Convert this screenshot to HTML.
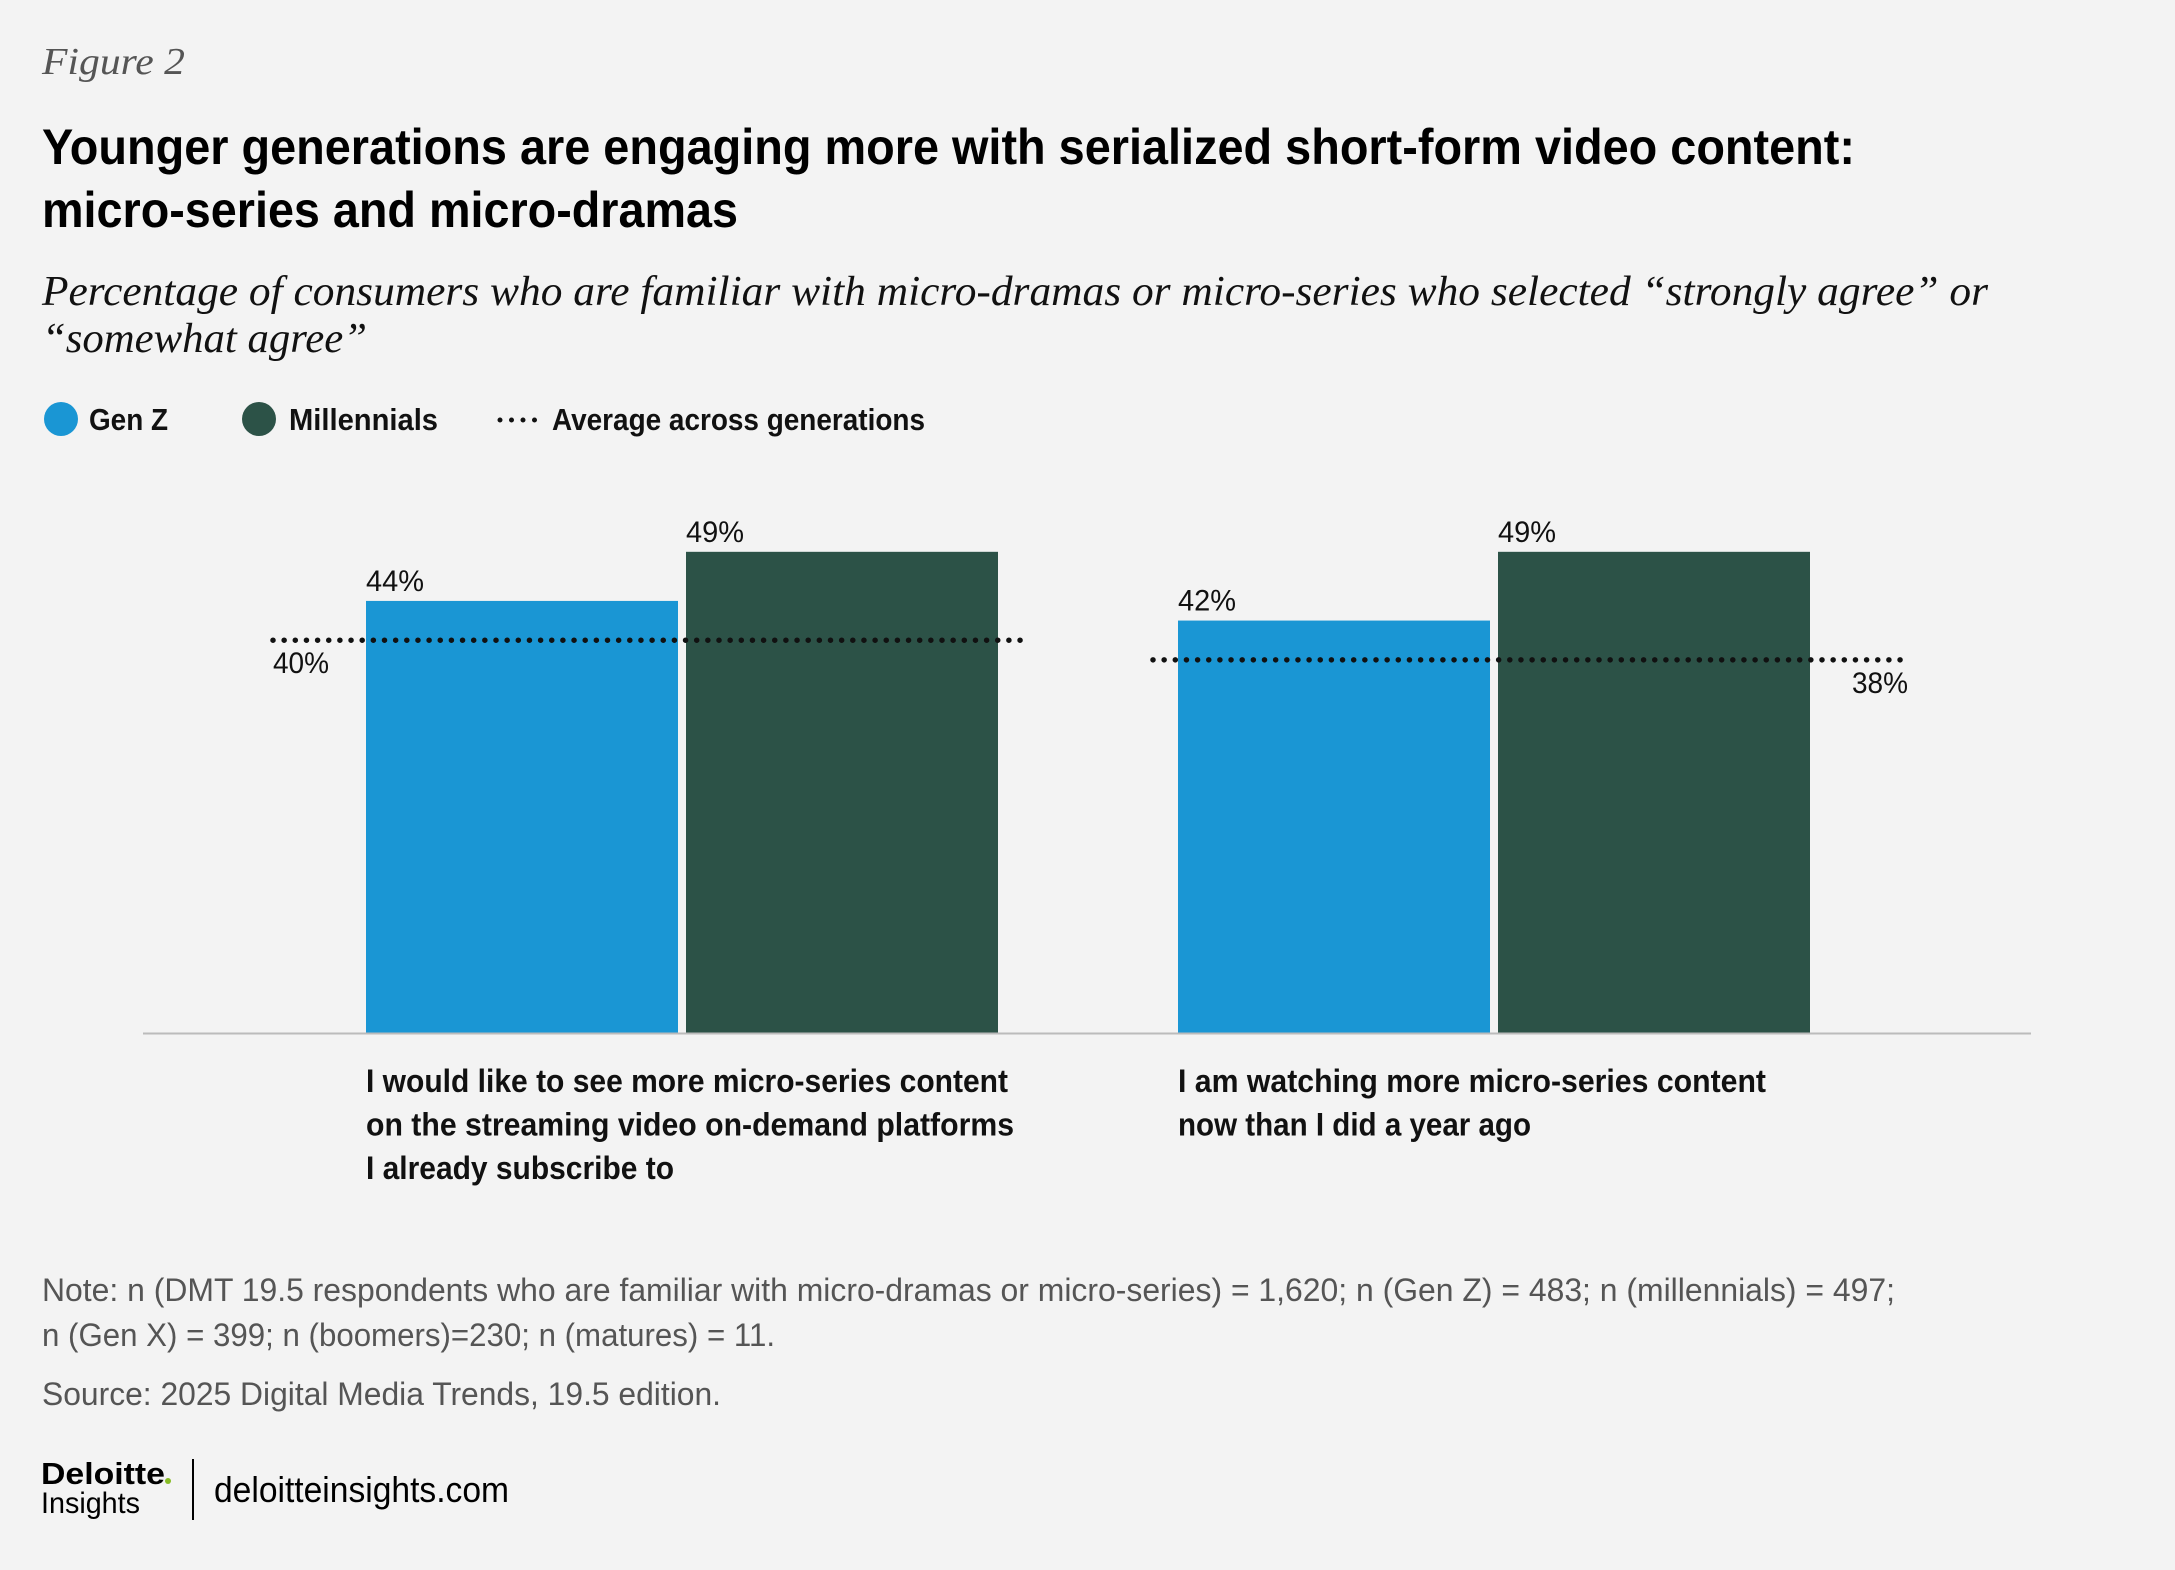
<!DOCTYPE html>
<html><head><meta charset="utf-8"><style>
html,body{margin:0;padding:0;background:#f3f3f3;}
svg{display:block;}
.sans{font-family:"Liberation Sans",sans-serif;}
.serif{font-family:"Liberation Serif",serif;font-style:italic;}
</style></head><body>
<svg width="2175" height="1570" viewBox="0 0 2175 1570">
<rect width="2175" height="1570" fill="#f3f3f3"/>
<text x="42" y="74" class="serif" font-size="38" fill="#555" textLength="143" lengthAdjust="spacingAndGlyphs">Figure 2</text>
<text x="42" y="164" class="sans" font-weight="bold" font-size="50" fill="#000" textLength="1813" lengthAdjust="spacingAndGlyphs">Younger generations are engaging more with serialized short-form video content:</text>
<text x="42" y="227" class="sans" font-weight="bold" font-size="50" fill="#000" textLength="696" lengthAdjust="spacingAndGlyphs">micro-series and micro-dramas</text>
<text x="42" y="305" class="serif" font-size="42" fill="#111" textLength="1946" lengthAdjust="spacingAndGlyphs">Percentage of consumers who are familiar with micro-dramas or micro-series who selected “strongly agree” or</text>
<text x="42" y="352" class="serif" font-size="42" fill="#111" textLength="325" lengthAdjust="spacingAndGlyphs">“somewhat agree”</text>
<g>
<circle cx="61" cy="419" r="17" fill="#1a96d4"/>
<text x="89" y="430" class="sans" font-weight="bold" font-size="31" fill="#111" textLength="79" lengthAdjust="spacingAndGlyphs">Gen Z</text>
<circle cx="259" cy="419" r="17" fill="#2c5247"/>
<text x="289" y="430" class="sans" font-weight="bold" font-size="31" fill="#111" textLength="149" lengthAdjust="spacingAndGlyphs">Millennials</text>
<line x1="500" y1="420" x2="535" y2="420" stroke="#111" stroke-width="5" stroke-dasharray="0 11.5" stroke-linecap="round"/>
<text x="552" y="430" class="sans" font-weight="bold" font-size="31" fill="#111" textLength="373" lengthAdjust="spacingAndGlyphs">Average across generations</text>
</g>
<g id="plot"></g>
<g>
<text x="42" y="1301" class="sans" font-size="32" fill="#555" textLength="1853" lengthAdjust="spacingAndGlyphs">Note: n (DMT 19.5 respondents who are familiar with micro-dramas or micro-series) = 1,620; n (Gen Z) = 483; n (millennials) = 497;</text>
<text x="42" y="1346" class="sans" font-size="32" fill="#555" textLength="733" lengthAdjust="spacingAndGlyphs">n (Gen X) = 399; n (boomers)=230; n (matures) = 11.</text>
<text x="42" y="1405" class="sans" font-size="32" fill="#555" textLength="679" lengthAdjust="spacingAndGlyphs">Source: 2025 Digital Media Trends, 19.5 edition.</text>
</g>
<g>
<text x="41" y="1484" class="sans" font-weight="bold" font-size="31" fill="#000" textLength="124" lengthAdjust="spacingAndGlyphs">Deloitte</text>
<circle cx="168" cy="1481" r="3" fill="#86bc25"/>
<text x="41" y="1513" class="sans" font-size="30" fill="#000" textLength="99" lengthAdjust="spacingAndGlyphs">Insights</text>
<line x1="193" y1="1459" x2="193" y2="1520" stroke="#000" stroke-width="2"/>
<text x="214" y="1502" class="sans" font-size="36" fill="#000" textLength="295" lengthAdjust="spacingAndGlyphs">deloitteinsights.com</text>
</g>
</svg>
<script>
const categories=["I would like to see more micro-series content|on the streaming video on-demand platforms|I already subscribe to","I am watching more micro-series content|now than I did a year ago"];
const genZ=[44,42];
const millennials=[49,49];
const average=[40,38];
const catLabelWidths=[[642,648,308],[588,353]];

const NS="http://www.w3.org/2000/svg";
const plot=document.getElementById('plot');
const y0=1033, perPct=9.82;
function yScale(v){return y0-v*perPct;}
const groupX=[366,1178], barW=312, gap=8;
function mk(tag,attrs){const e=document.createElementNS(NS,tag);for(const k in attrs)e.setAttribute(k,attrs[k]);plot.appendChild(e);return e;}

categories.forEach((cat,i)=>{
  const gx=groupX[i];
  const series=[[genZ[i],"#1a96d4","genz"],[millennials[i],"#2c5247","millennials"]];
  series.forEach((s,j)=>{
    const x=gx+j*(barW+gap);
    const r=mk('rect',{x:x,y:yScale(s[0]),width:barW,height:y0-yScale(s[0]),fill:s[1]});
    
    
    const t=mk('text',{x:x,y:yScale(s[0])-10,'font-family':'"Liberation Sans",sans-serif','font-size':30,fill:'#111',textLength:58,lengthAdjust:'spacingAndGlyphs'});
    t.textContent=s[0]+'%';
    
    
  });
  const ax1=i===0?273:1153, ax2=i===0?1023:1905;
  const ay=yScale(average[i]);
  const l=mk('line',{x1:ax1,y1:ay,x2:ax2,y2:ay,stroke:'#111','stroke-width':5.5,'stroke-dasharray':'0 11.15','stroke-linecap':'round'});
  
  
  const at=mk('text',{x:i===0?273:1852,y:ay+33,'font-family':'"Liberation Sans",sans-serif','font-size':30,fill:'#111',textLength:56,lengthAdjust:'spacingAndGlyphs'});
  at.textContent=average[i]+'%';
  
  
  cat.split('|').forEach((line,k)=>{
    const ct=mk('text',{x:gx,y:1092+k*43.5,'font-family':'"Liberation Sans",sans-serif','font-weight':'bold','font-size':32,fill:'#111',textLength:catLabelWidths[i][k],lengthAdjust:'spacingAndGlyphs'});
    ct.textContent=line;
    
    
  });
});
const ax=mk('line',{x1:143,y1:y0+0.5,x2:2031,y2:y0+0.5,stroke:'#bbb','stroke-width':2});


</script>
</body></html>
